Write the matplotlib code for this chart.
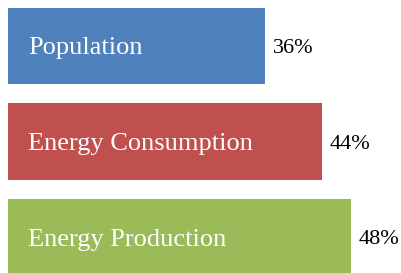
import matplotlib
matplotlib.use("Agg")
import matplotlib.pyplot as plt

categories = ["Population", "Energy Consumption", "Energy Production"]
values = [36, 44, 48]
colors = ["#4F81BD", "#C0504D", "#9BBB59"]

plt.rcParams["font.family"] = ["Liberation Serif", "DejaVu Serif"]

fig = plt.figure(figsize=(4.01, 2.73), dpi=100)
ax = fig.add_axes([0, 0, 1, 1])

pos = list(range(len(categories)))
ax.barh(pos, values, height=0.8, color=colors)

for p, name, v in zip(pos, categories, values):
    ax.text(2.8, p + 0.025, name, color="white", fontsize=19, va="center", ha="left")
    ax.text(v + 1.1, p + 0.025, f"{v}%", color="black", fontsize=16,
            va="center", ha="left")

ax.set_xlim(-1.12, 55.04)
ax.set_ylim(2.37, -0.479)
ax.axis("off")

fig.savefig("out.png", dpi=100)
